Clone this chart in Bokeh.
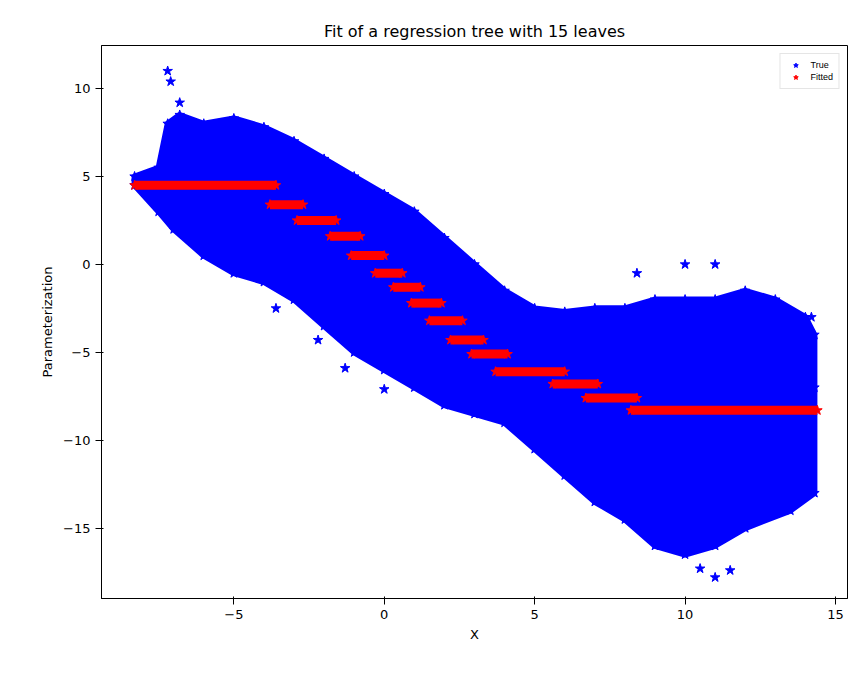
from bokeh.plotting import figure
from bokeh.models import Range1d, Legend, LegendItem
from bokeh.embed import file_html
from bokeh.resources import INLINE

# outline of the dense "True" cloud
upper_x = [-8.3, -7.5, -7.2, -6.8, -6.0, -5.0, -4.0, -3.0, -2.0, -1.0, 0.0, 1.0, 2.0, 3.0, 4.0,
           5.0, 6.0, 7.0, 8.0, 9.0, 10.0, 11.0, 12.0, 13.0, 14.0, 14.3]
upper_y = [5.0, 5.5, 8.0, 8.5, 8.0, 8.3, 7.8, 7.0, 6.0, 5.0, 4.0, 3.0, 1.5, 0.0, -1.5,
           -2.5, -2.7, -2.5, -2.5, -2.0, -2.0, -2.0, -1.5, -2.0, -3.0, -4.0]
lower_x = [14.3, 13.5, 12.0, 11.0, 10.0, 9.0, 8.0, 7.0, 6.0, 5.0, 4.0, 3.0, 2.0, 1.0, 0.0,
           -1.0, -2.0, -3.0, -4.0, -5.0, -6.0, -7.0, -7.5, -8.3]
lower_y = [-13.0, -14.0, -15.0, -16.0, -16.5, -16.0, -14.5, -13.5, -12.0, -10.5, -9.0, -8.5, -8.0, -7.0, -6.0,
           -5.0, -3.5, -2.0, -1.0, -0.5, 0.5, 2.0, 3.0, 4.5]
# scattered stars outside the main mass
out_x = [-7.2, -7.1, -6.8, 10.0, 11.0, 8.4, 11.0, 10.5, 11.5, -1.3, 0.0, -3.6, -2.2, 12.5, 14.2, 14.3, 14.2]
out_y = [11.0, 10.4, 9.2, 0.0, 0.0, -0.5, -17.8, -17.3, -17.4, -5.9, -7.1, -2.5, -4.3, -2.0, -3.0, -7.0, -12.7]

# fitted tree leaves: x start, x end, value
leaf_x0 = [-8.3, -3.8, -2.9, -1.8, -1.1, -0.3, 0.3, 0.9, 1.5, 2.2, 2.9, 3.7, 5.6, 6.7, 8.2]
leaf_x1 = [-3.6, -2.7, -1.6, -0.8, 0.0, 0.6, 1.2, 1.9, 2.6, 3.3, 4.1, 6.0, 7.1, 8.4, 14.4]
leaf_y = [4.5, 3.4, 2.5, 1.6, 0.5, -0.5, -1.3, -2.2, -3.2, -4.3, -5.1, -6.1, -6.8, -7.6, -8.3]

p = figure(width=855, height=668, output_backend="svg", toolbar_location=None,
           title="Fit of a regression tree with 15 leaves",
           x_axis_label="X", y_axis_label="Parameterization",
           x_range=Range1d(-9.4, 15.4), y_range=Range1d(-19.0, 12.45),
           min_border_left=101, min_border_right=8, min_border_top=45, min_border_bottom=70)
p.title.align = "center"
p.title.text_font_size = "16px"
p.title.text_font_style = "normal"
p.title.text_font = "DejaVu Sans"
p.title.text_color = "black"
p.xgrid.visible = False
p.ygrid.visible = False
p.outline_line_color = "black"
for ax in (p.xaxis, p.yaxis):
    ax.axis_label_text_font_size = "13px"
    ax.axis_label_text_font_style = "normal"
    ax.major_label_text_font_size = "13px"
    ax.axis_label_text_font = "DejaVu Sans"
    ax.major_label_text_font = "DejaVu Sans"
    ax.axis_label_text_color = "black"
    ax.major_label_text_color = "black"
    ax.major_tick_line_color = "black"
    ax.axis_line_color = "black"
    ax.minor_tick_line_color = None
p.xaxis.ticker = [-5, 0, 5, 10, 15]
p.yaxis.ticker = [-15, -10, -5, 0, 5, 10]

p.patch(upper_x + lower_x, upper_y + lower_y, color="blue", line_width=6, line_join="round")
edge = p.scatter(upper_x + lower_x + out_x, upper_y + lower_y + out_y, marker="star",
                 size=10, color="blue")
p.segment(leaf_x0, leaf_y, leaf_x1, leaf_y, color="red", line_width=9)
fit = p.scatter(leaf_x0 + leaf_x1, leaf_y + leaf_y, marker="star", size=10, color="red")

legend = Legend(items=[LegendItem(label="True", renderers=[edge]),
                       LegendItem(label="Fitted", renderers=[fit])],
                location="top_right", label_text_font_size="9px", glyph_height=12,
                label_height=12, spacing=0, padding=5, margin=8,
                label_text_color="black", border_line_color="#cccccc")
p.add_layout(legend)

open("out.html", "w").write(file_html(p, INLINE))
